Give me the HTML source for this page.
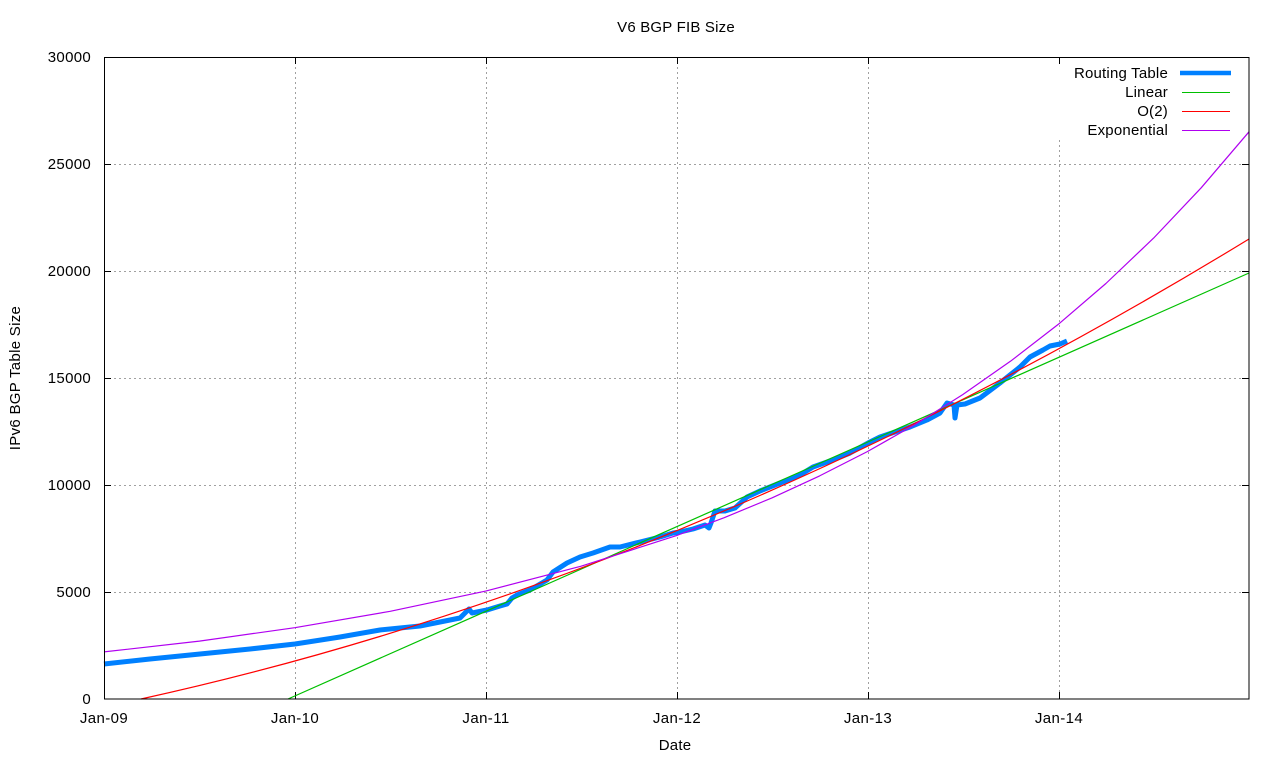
<!DOCTYPE html>
<html>
<head>
<meta charset="utf-8">
<style>
html,body{margin:0;padding:0;background:#fff;}
svg{display:block;}
text{font-family:"Liberation Sans",Arial,sans-serif;font-size:15px;fill:#000;}
</style>
</head>
<body>
<svg width="1280" height="760" viewBox="0 0 1280 760" xmlns="http://www.w3.org/2000/svg">
<rect width="1280" height="760" fill="#fff"/>
<!-- grid -->
<g stroke="#a0a0a0" stroke-width="1" stroke-dasharray="2,3" fill="none">
<line x1="295.5" y1="57" x2="295.5" y2="699"/>
<line x1="486.5" y1="57" x2="486.5" y2="699"/>
<line x1="677.5" y1="57" x2="677.5" y2="699"/>
<line x1="868.5" y1="57" x2="868.5" y2="699"/>
<line x1="1059.5" y1="140" x2="1059.5" y2="699"/>
<line x1="104" y1="164.5" x2="1249" y2="164.5"/>
<line x1="104" y1="271.5" x2="1249" y2="271.5"/>
<line x1="104" y1="378.5" x2="1249" y2="378.5"/>
<line x1="104" y1="485.5" x2="1249" y2="485.5"/>
<line x1="104" y1="592.5" x2="1249" y2="592.5"/>
</g>
<!-- ticks -->
<g stroke="#000" stroke-width="1">
<line x1="104" y1="164.5" x2="111" y2="164.5"/><line x1="1249" y1="164.5" x2="1242" y2="164.5"/>
<line x1="104" y1="271.5" x2="111" y2="271.5"/><line x1="1249" y1="271.5" x2="1242" y2="271.5"/>
<line x1="104" y1="378.5" x2="111" y2="378.5"/><line x1="1249" y1="378.5" x2="1242" y2="378.5"/>
<line x1="104" y1="485.5" x2="111" y2="485.5"/><line x1="1249" y1="485.5" x2="1242" y2="485.5"/>
<line x1="104" y1="592.5" x2="111" y2="592.5"/><line x1="1249" y1="592.5" x2="1242" y2="592.5"/>
<line x1="295.5" y1="699" x2="295.5" y2="692"/><line x1="295.5" y1="57" x2="295.5" y2="64"/>
<line x1="486.5" y1="699" x2="486.5" y2="692"/><line x1="486.5" y1="57" x2="486.5" y2="64"/>
<line x1="677.5" y1="699" x2="677.5" y2="692"/><line x1="677.5" y1="57" x2="677.5" y2="64"/>
<line x1="868.5" y1="699" x2="868.5" y2="692"/><line x1="868.5" y1="57" x2="868.5" y2="64"/>
<line x1="1059.5" y1="699" x2="1059.5" y2="692"/><line x1="1059.5" y1="57" x2="1059.5" y2="64"/>
</g>
<!-- series -->
<g fill="none" stroke-linejoin="round">
<polyline stroke="#0080ff" stroke-width="5" points="104,664 150,659 200,654 250,649 295,644 340,637 380,630 420,626 460,618 466,612 469,609 472,613 487,610 500,606 507,604 512,598 517,595 530,590 547,580 553,572 567,563 580,557 593,553 610,547 620,547 640,542 660,537 673,533 680,532 693,529 705,525 709,528 711,523 715,511 725,511 735,508 747,497 760,491 780,483 800,475 813,467 830,461 850,453 868,443 880,437 895,432 910,427 927,420 940,413 947,403 954,405 955,418 957,405 965,404 980,398 1000,383 1010,375 1020,367 1030,357 1043,350 1050,346 1060,344 1067,341"/>
<line stroke="#00c000" stroke-width="1.2" x1="288" y1="699" x2="1249" y2="273"/>
<path stroke="#ff0000" stroke-width="1.2" d="M141,699 Q695,577.3 1249,239"/>
<polyline stroke="#b000f0" stroke-width="1.2" points="104,651.9 199.4,641.1 294.8,627.7 390.2,611.3 485.7,591.1 581.1,566.2 676.5,535.6 724.2,517.7 771.9,497.9 819.6,475.9 867.3,451.6 915,424.6 962.7,394.6 1010.4,361.3 1058.2,324.4 1105.9,283.5 1153.6,238.1 1201.3,187.7 1249,131.8"/>
</g>
<!-- border -->
<rect x="104.5" y="57.5" width="1144.5" height="641.5" fill="none" stroke="#000" stroke-width="1"/>
<!-- legend -->
<g text-anchor="end" letter-spacing="0.2">
<text x="1168" y="78">Routing Table</text>
<text x="1168" y="97">Linear</text>
<text x="1168" y="116">O(2)</text>
<text x="1168" y="135">Exponential</text>
</g>
<line x1="1180" y1="73" x2="1231" y2="73" stroke="#0080ff" stroke-width="4.5"/>
<line x1="1182" y1="92.5" x2="1230" y2="92.5" stroke="#00c000" stroke-width="1"/>
<line x1="1182" y1="111.5" x2="1230" y2="111.5" stroke="#ff0000" stroke-width="1"/>
<line x1="1182" y1="130.5" x2="1230" y2="130.5" stroke="#b000f0" stroke-width="1"/>
<!-- y tick labels -->
<g text-anchor="end" letter-spacing="0.3">
<text x="91" y="62">30000</text>
<text x="91" y="169">25000</text>
<text x="91" y="276">20000</text>
<text x="91" y="383">15000</text>
<text x="91" y="490">10000</text>
<text x="91" y="597">5000</text>
<text x="91" y="704">0</text>
</g>
<!-- x tick labels -->
<g text-anchor="middle" letter-spacing="0.4">
<text x="104" y="723">Jan-09</text>
<text x="295" y="723">Jan-10</text>
<text x="486" y="723">Jan-11</text>
<text x="677" y="723">Jan-12</text>
<text x="868" y="723">Jan-13</text>
<text x="1059" y="723">Jan-14</text>
</g>
<text x="676" y="32" text-anchor="middle" letter-spacing="0.2">V6 BGP FIB Size</text>
<text x="675" y="750" text-anchor="middle" letter-spacing="0.2">Date</text>
<text transform="translate(20,378) rotate(-90)" text-anchor="middle" letter-spacing="0.3">IPv6 BGP Table Size</text>
</svg>
</body>
</html>
